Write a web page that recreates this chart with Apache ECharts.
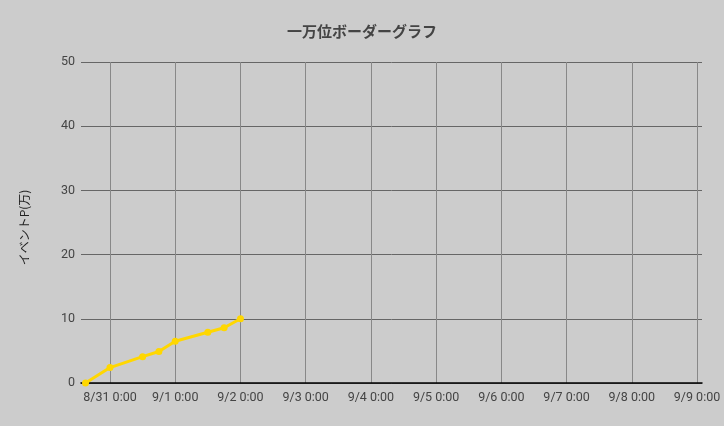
<!DOCTYPE html>
<html>
<head>
<meta charset="utf-8">
<script src="https://cdn.jsdelivr.net/npm/echarts@6/dist/echarts.min.js"></script>
<style>
  html, body { margin: 0; padding: 0; background: #cccccc; }
  #chart { width: 724px; height: 426px; }
</style>
</head>
<body>
<div id="chart"></div>
<script>
// 集計時刻 (月, 日, 時)
const times = [
  [8, 30, 15], [8, 31, 0], [8, 31, 12], [8, 31, 18],
  [9, 1, 0], [9, 1, 12], [9, 1, 18], [9, 2, 0]
]
// 一万位ボーダー (万P)
const border = [0, 2.4, 4.1, 4.9, 6.5, 7.9, 8.6, 10.0]

const yTicks = [0, 10, 20, 30, 40, 50]

const toDate = t => new Date(2023, t[0] - 1, t[1], t[2]).getTime()

const chart = echarts.init(document.getElementById('chart'))

let option = {
    backgroundColor: '#cccccc',
    textStyle: { fontFamily: 'Roboto, "Noto Sans CJK JP", sans-serif' },
    title: {
        text: '一万位ボーダーグラフ',
        left: 'center',
        top: 19,
        textStyle: { fontSize: 15, fontWeight: 'bold', color: '#444', fontFamily: '"Noto Sans CJK JP", sans-serif' }
    },
    grid: { left: 81, right: 22, top: 62, bottom: 43 },
    xAxis: {
        type: 'time',
        min: new Date(2023, 7, 30, 13, 20).getTime(),
        max: new Date(2023, 8, 9, 1, 50).getTime(),
        minInterval: 86400000,
        maxInterval: 86400000,
        axisLine: { lineStyle: { color: '#000', width: 1.5 } },
        axisTick: { show: false },
        axisLabel: {
            formatter: '{M}/{d} {H}:{mm}',
            color: '#444', fontSize: 12.5, margin: 9,
            showMinLabel: false, showMaxLabel: false
        },
        splitLine: {
            show: true, showMinLine: false, showMaxLine: false,
            lineStyle: { color: '#888', width: 1 }
        }
    },
    yAxis: {
        type: 'value',
        min: yTicks[0],
        max: yTicks[yTicks.length - 1],
        interval: 10,
        name: 'イベントP(万)',
        nameLocation: 'middle',
        nameRotate: 90,
        nameGap: 51,
        nameTextStyle: { color: '#222', fontSize: 12, padding: [0, 0, 0, -10], fontFamily: '"Noto Sans CJK JP", sans-serif' },
        axisLine: { show: false },
        axisTick: { show: false },
        axisLabel: { color: '#444', fontSize: 12.5, margin: 6 },
        splitLine: { lineStyle: { color: '#666', width: 1 } }
    },
    series: [{
        name: 'ボーダー',
        type: 'line',
        data: times.map((t, i) => [toDate(t), border[i]]),
        symbol: 'circle',
        symbolSize: 7,
        lineStyle: { color: '#ffd700', width: 3 },
        itemStyle: { color: '#ffd700' },
        animation: false
    }]
}

chart.setOption(option)
</script>
</body>
</html>
